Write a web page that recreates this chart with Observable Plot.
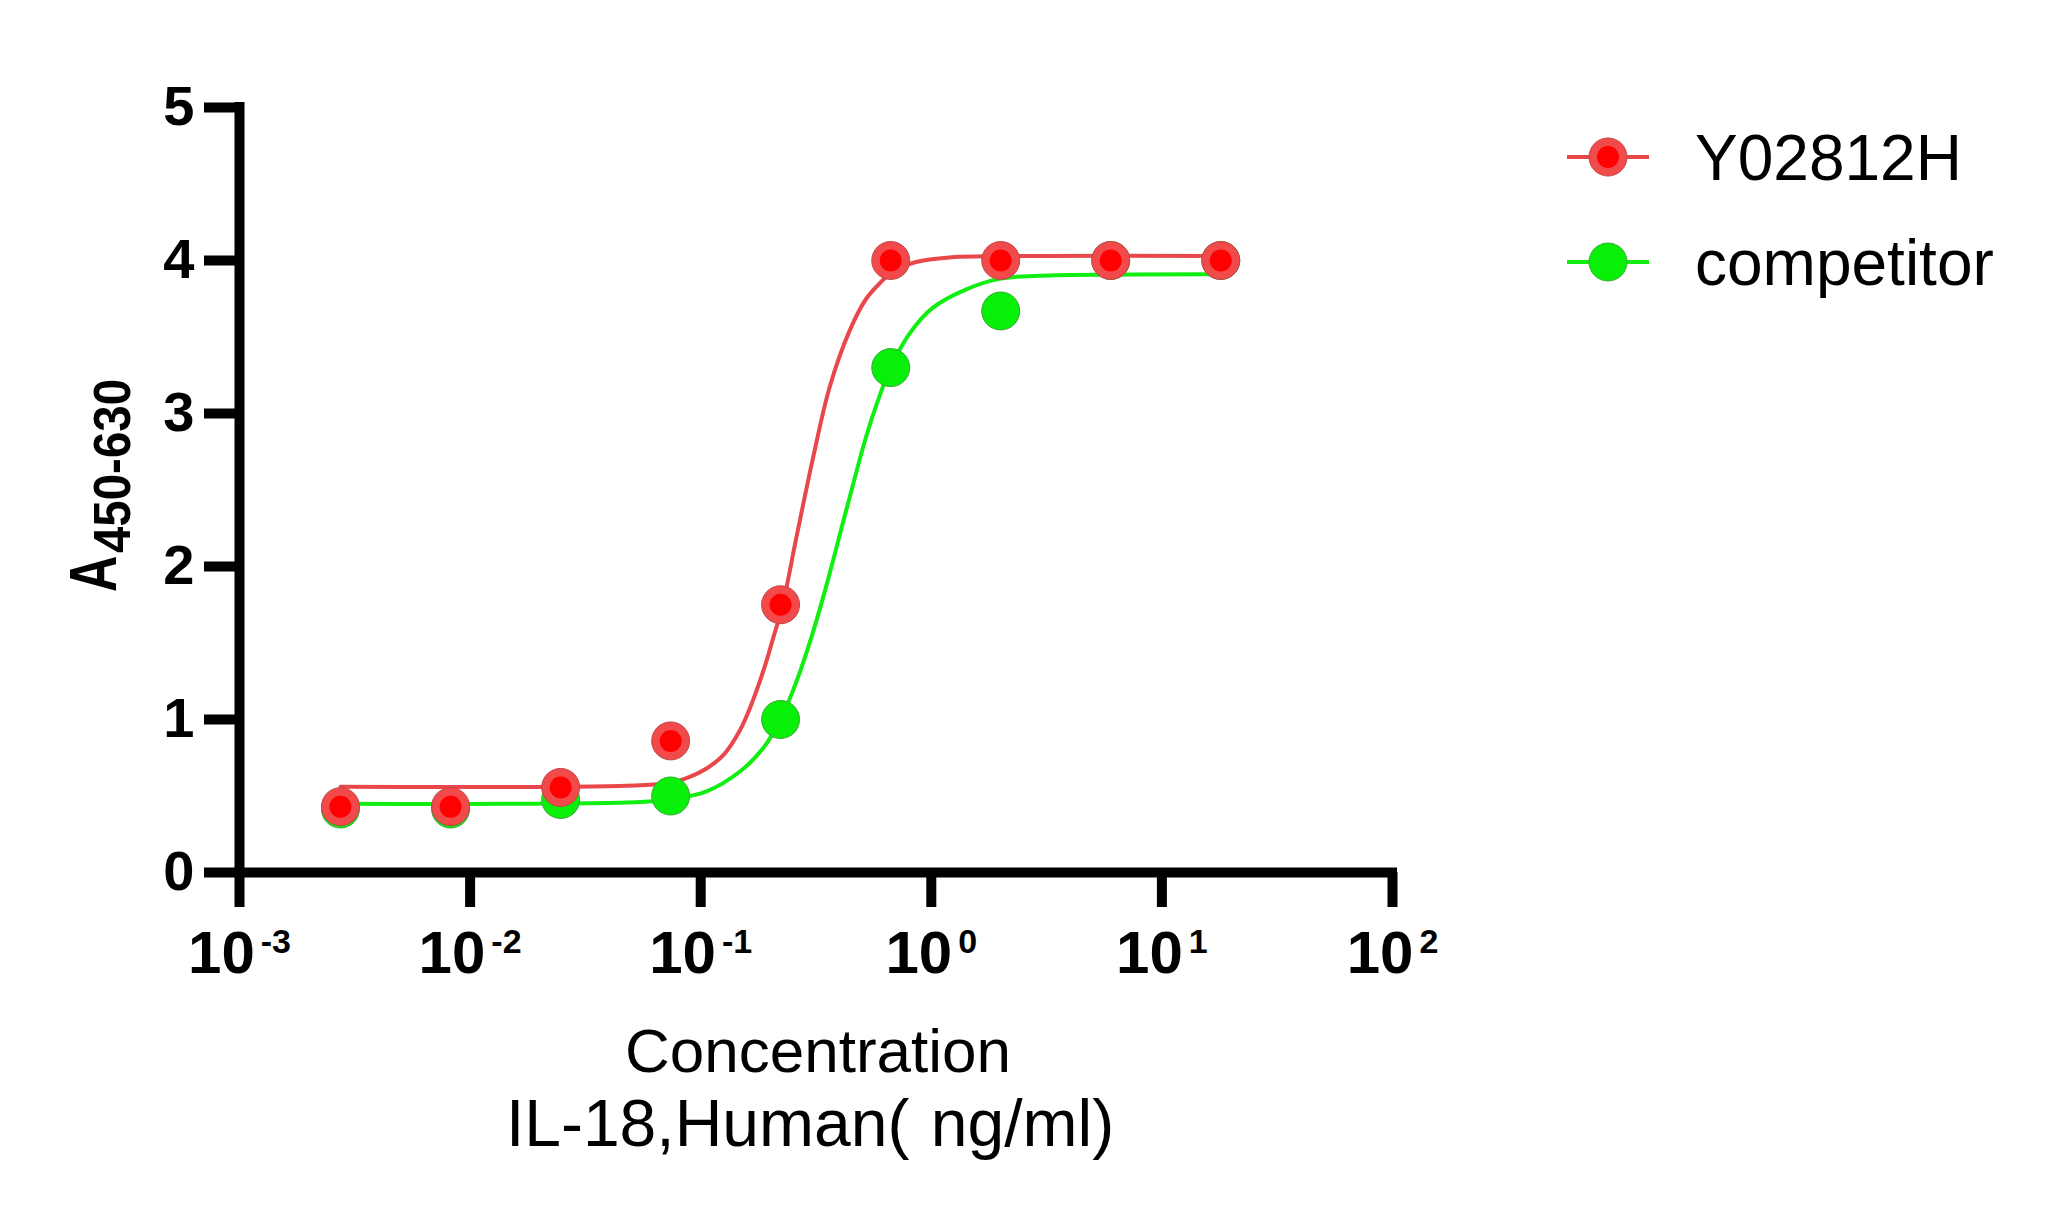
<!DOCTYPE html>
<html>
<head>
<meta charset="utf-8">
<script src="https://cdn.jsdelivr.net/npm/d3@7"></script>
<script src="https://cdn.jsdelivr.net/npm/@observablehq/plot@0.6"></script>
<style>
  html, body { margin: 0; padding: 0; background: #ffffff; }
  #chart svg { display: block; }
</style>
</head>
<body>
<div id="chart"></div>
<script>
// ---- Data ----
const concentrations = [0.00274, 0.00823, 0.0247, 0.0741, 0.222, 0.667, 2, 6, 18];
const y02812hValues = [0.43, 0.43, 0.556, 0.86, 1.75, 4.00, 4.00, 4.00, 4.00];
const competitorValues = [0.415, 0.415, 0.477, 0.50, 1.00, 3.30, 3.67, 4.00, 4.00];

// fitted curves
const y02812hFitConc = [0.00274, 0.0545, 0.0759, 0.0896, 0.106, 0.125, 0.148, 0.168, 0.189, 0.206, 0.226, 0.260, 0.306, 0.362, 0.442, 0.522, 0.615, 0.667, 0.859, 1.20, 2.94, 18];
const y02812hFitValues = [0.56, 0.57, 0.59, 0.625, 0.68, 0.765, 0.93, 1.12, 1.34, 1.53, 1.74, 2.19, 2.70, 3.17, 3.54, 3.75, 3.87, 3.92, 3.99, 4.02, 4.03, 4.03];
const competitorFitConc = [0.00274, 0.0545, 0.0759, 0.106, 0.148, 0.186, 0.222, 0.259, 0.301, 0.350, 0.428, 0.522, 0.595, 0.667, 0.803, 1.013, 1.41, 1.97, 2.94, 18];
const competitorFitValues = [0.45, 0.46, 0.48, 0.53, 0.66, 0.81, 1.00, 1.24, 1.53, 1.87, 2.37, 2.85, 3.11, 3.30, 3.52, 3.69, 3.81, 3.88, 3.90, 3.91];

const xTicks = [1e-3, 1e-2, 1e-1, 1, 10, 100];
const xTickExponents = ["-3", "-2", "-1", "0", "1", "2"];
const yTicks = [0, 1, 2, 3, 4, 5];
const seriesNames = ["Y02812H", "competitor"];
const xTitleLine1 = "Concentration";
const xTitleLine2 = "IL-18,Human( ng/ml)";
const yTitleMain = "A";
const yTitleSub = "450-630";

// ---- Styles ----
const redOuter = "#f24a4a";
const redInner = "#ff0000";
const redLine = "#e8474c";
const greenFill = "#08f008";
const greenLine = "#12ee12";
const fontFamily = "'Liberation Sans', Arial, Helvetica, sans-serif";

const pts = (xs, ys) => xs.map((x, i) => ({x, y: ys[i]}));
const redPts = pts(concentrations, y02812hValues);
const greenPts = pts(concentrations, competitorValues);
const redFit = pts(y02812hFitConc, y02812hFitValues);
const greenFit = pts(competitorFitConc, competitorFitValues);

const plot = Plot.plot({
  width: 2048,
  height: 1212,
  marginLeft: 239,
  marginRight: 656,
  marginTop: 107,
  marginBottom: 340,
  style: {fontFamily, background: "#ffffff", color: "#000000"},
  x: {type: "log", domain: [xTicks[0], xTicks[xTicks.length - 1]]},
  y: {domain: [yTicks[0], yTicks[yTicks.length - 1]]},
  marks: [
    Plot.axisY({ticks: yTicks, tickSize: 35, strokeWidth: 10, tickPadding: 10,
      fontSize: 56, fontWeight: "bold", label: null, tickFormat: d => String(d)}),
    Plot.axisX({ticks: xTicks, tickSize: 35, strokeWidth: 10, tickPadding: 23,
      fontSize: 60, fontWeight: "bold", label: null,
      tickFormat: (d) => xTickExponents[xTicks.indexOf(d)]}),
    Plot.ruleX([xTicks[0]], {y1: () => yTicks[0], y2: () => yTicks[yTicks.length - 1],
      stroke: "#000", strokeWidth: 10, strokeLinecap: "square"}),
    Plot.ruleY([yTicks[0]], {x1: () => xTicks[0], x2: () => xTicks[xTicks.length - 1],
      stroke: "#000", strokeWidth: 10, strokeLinecap: "square"}),
    Plot.line(greenFit, {x: "x", y: "y", stroke: greenLine, strokeWidth: 4, curve: "catmull-rom"}),
    Plot.line(redFit, {x: "x", y: "y", stroke: redLine, strokeWidth: 4, curve: "catmull-rom"}),
    Plot.dot(greenPts, {x: "x", y: "y", r: 19, fill: greenFill, stroke: "#3aa83a", strokeWidth: 1}),
    Plot.dot(redPts, {x: "x", y: "y", r: 19, fill: redOuter, stroke: "#c04848", strokeWidth: 1}),
    Plot.dot(redPts, {x: "x", y: "y", r: 11, fill: redInner})
  ]
});

document.getElementById("chart").appendChild(plot);
const svg = d3.select(plot);

// superscript exponents on the x tick labels
svg.selectAll('g[aria-label="x-axis tick label"] text').each(function() {
  const t = d3.select(this);
  const e = t.text();
  t.text(null);
  t.append("tspan").text("10");
  t.append("tspan").attr("dx", 6).attr("dy", -20).attr("font-size", 34).text(e);
});

// x-axis title (two lines)
svg.append("text").attr("x", 818).attr("y", 1072).attr("text-anchor", "middle")
  .attr("font-size", 62).attr("font-weight", "normal").attr("font-family", fontFamily)
  .attr("fill", "#000").text(xTitleLine1);
svg.append("text").attr("x", 810).attr("y", 1146).attr("text-anchor", "middle")
  .attr("font-size", 66).attr("font-weight", "normal").attr("font-family", fontFamily)
  .attr("word-spacing", 3).attr("fill", "#000").text(xTitleLine2);

// y-axis title A with subscript
svg.append("text").attr("transform", "translate(116,592) rotate(-90) scale(0.76,1)")
  .attr("text-anchor", "start")
  .attr("font-size", 66).attr("font-weight", "bold").attr("font-family", fontFamily)
  .attr("fill", "#000").text(yTitleMain);
svg.append("text").attr("transform", "translate(130,553) rotate(-90) scale(0.93,1)")
  .attr("text-anchor", "start")
  .attr("font-size", 51).attr("font-weight", "bold").attr("font-family", fontFamily)
  .attr("fill", "#000").text(yTitleSub);

// legend
const legend = svg.append("g").attr("aria-label", "legend");
const legendItems = [
  {name: seriesNames[0], line: redLine, fill: redOuter, stroke: "#c04848", inner: redInner, cy: 157, ty: 180},
  {name: seriesNames[1], line: greenLine, fill: greenFill, stroke: "#3aa83a", inner: null, cy: 262, ty: 285}
];
legendItems.forEach(it => {
  legend.append("line").attr("x1", 1567).attr("x2", 1649).attr("y1", it.cy).attr("y2", it.cy)
    .attr("stroke", it.line).attr("stroke-width", 4);
  legend.append("circle").attr("cx", 1608).attr("cy", it.cy).attr("r", 19)
    .attr("fill", it.fill).attr("stroke", it.stroke).attr("stroke-width", 1);
  if (it.inner) legend.append("circle").attr("cx", 1608).attr("cy", it.cy).attr("r", 11).attr("fill", it.inner);
  legend.append("text").attr("x", 1695).attr("y", it.ty).attr("text-anchor", "start")
    .attr("font-size", 64).attr("font-weight", "normal")
    .attr("font-family", fontFamily).attr("fill", "#000").text(it.name);
});
</script>
</body>
</html>
